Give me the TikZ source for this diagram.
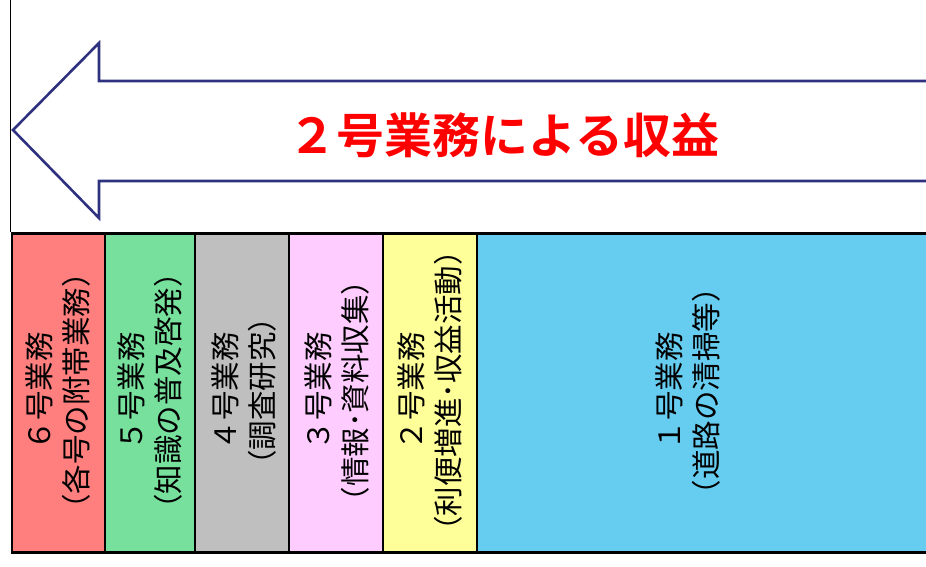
\documentclass[tikz,border=0pt]{standalone}
\usepackage{fontspec}
\newfontfamily\cjk{Noto Sans CJK JP}[BoldFont={Noto Sans CJK JP Bold}]
\definecolor{c6}{HTML}{FF7F7F}
\definecolor{c5}{HTML}{77E09D}
\definecolor{c4}{HTML}{BFBFBF}
\definecolor{c3}{HTML}{FFCCFF}
\definecolor{c2}{HTML}{FFFF99}
\definecolor{c1}{HTML}{66CCF0}
\definecolor{navy}{HTML}{2E3180}
\definecolor{titlered}{HTML}{FF0000}
\tikzset{
  bizbox/.style={draw=black, line width=2.6pt, anchor=north west, inner sep=0pt, minimum height=319pt},
  bizlabel/.style={rotate=90, align=center, inner sep=0pt, font=\cjk\fontsize{29.5}{37}\selectfont},
  arrowline/.style={draw=navy, line width=2.6pt, fill=white, line join=miter},
  titletext/.style={text=titlered, font=\cjk\bfseries\fontsize{48}{52}\selectfont, inner sep=0pt}
}
\begin{document}
\begin{tikzpicture}[x=1pt,y=-1pt]
\useasboundingbox (0,0) rectangle (926,567);
\draw[line width=1.8pt] (10.5,0) -- (10.5,232);
\path[arrowline] (935,81) -- (99,81) -- (99,43) -- (13,130) -- (99,218) -- (99,181) -- (935,181);
\node[titletext] (title) at (504,135) {２号業務による収益};
\node[bizbox, fill=c6, minimum width=93pt] (b6) at (10.5,232) {};
\node[bizbox, fill=c5, minimum width=90pt] (b5) at (103.5,232) {};
\node[bizbox, fill=c4, minimum width=94pt] (b4) at (193.5,232) {};
\node[bizbox, fill=c3, minimum width=94pt] (b3) at (287.5,232) {};
\node[bizbox, fill=c2, minimum width=94pt] (b2) at (381.5,232) {};
\node[bizbox, fill=c1, minimum width=460pt] (b1) at (475.5,232) {};
\node[bizlabel] (l6) at (58,391) {６号業務\\（各号の附帯業務）};
\node[bizlabel] (l5) at (150,391) {５号業務\\（知識の普及啓発）};
\node[bizlabel] (l4) at (244,391) {４号業務\\（調査研究）};
\node[bizlabel] (l3) at (337,391) {３号業務\\（情報･資料収集）};
\node[bizlabel] (l2) at (430,391) {２号業務\\（利便増進･収益活動）};
\node[bizlabel] (l1) at (688,391) {１号業務\\（道路の清掃等）};
\end{tikzpicture}
\end{document}
